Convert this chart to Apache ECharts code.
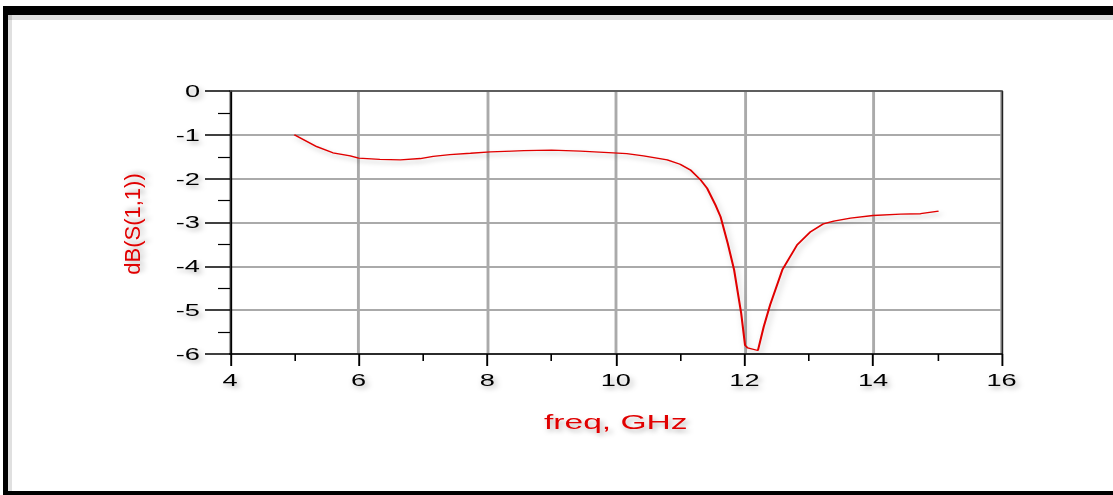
<!DOCTYPE html>
<html>
<head>
<meta charset="utf-8">
<script src="https://cdn.jsdelivr.net/npm/echarts@6/dist/echarts.min.js"></script>
<style>
html,body{margin:0;padding:0;background:#fff;overflow:hidden;}
#wrap{width:1113px;height:495px;position:relative;overflow:hidden;}
#c{position:absolute;left:0;top:0;height:495px;transform-origin:0 0;}
</style>
</head>
<body>
<div id="wrap"><div id="c"></div></div>
<script>
const freq = [5.0, 5.35, 5.6, 5.87, 6.0, 6.33, 6.65, 6.96, 7.16, 7.42, 7.74, 8.05, 8.57, 9.0, 9.45, 9.96, 10.17, 10.43, 10.8, 11.0, 11.16, 11.32, 11.42, 11.55, 11.63, 11.74, 11.84, 11.95, 12.01, 12.05, 12.21, 12.30, 12.40, 12.59, 12.82, 13.03, 13.23, 13.39, 13.65, 14.0, 14.43, 14.74, 15.02];
const s11 = [-1.0, -1.27, -1.41, -1.48, -1.53, -1.56, -1.57, -1.54, -1.49, -1.45, -1.42, -1.39, -1.36, -1.35, -1.37, -1.41, -1.43, -1.48, -1.57, -1.67, -1.80, -2.03, -2.22, -2.60, -2.87, -3.47, -4.08, -5.07, -5.80, -5.86, -5.92, -5.38, -4.88, -4.08, -3.51, -3.21, -3.03, -2.97, -2.90, -2.84, -2.81, -2.80, -2.74];
const xTicks = [4, 6, 8, 10, 12, 14, 16];
const yTicks = [0, -1, -2, -3, -4, -5, -6];
const xName = 'freq, GHz';
const yName = 'dB(S(1,1))';

// The reference's picture is stretched horizontally; draw narrower and stretch with CSS.
const S = 1.6;
const W = 1113, H = 495;
const W0 = W / S;
const el = document.getElementById('c');
el.style.width = W0 + 'px';
el.style.transform = 'scaleX(' + S + ')';

const shadow = {textShadowColor: 'rgba(0,0,0,0.3)', textShadowBlur: 4, textShadowOffsetX: 1.5, textShadowOffsetY: 3};
const font = 'Liberation Sans, Arial, sans-serif';

const chart = echarts.init(el, null, {renderer: 'svg'});
chart.setOption({
  animation: false,
  backgroundColor: '#fff',
  graphic: [
    {type: 'rect', shape: {x: 8 / S, y: 15, width: W0, height: 5}, style: {fill: 'rgba(0,0,0,0.12)'}, z: 0},
    {type: 'rect', shape: {x: 8 / S, y: 15, width: 4 / S, height: 476}, style: {fill: 'rgba(0,0,0,0.12)'}, z: 0},
    {type: 'rect', shape: {x: 3 / S, y: 6, width: W0, height: 9}, style: {fill: '#000'}, z: 1},
    {type: 'rect', shape: {x: 3 / S, y: 6, width: 5 / S, height: 489}, style: {fill: '#000'}, z: 1},
    {type: 'rect', shape: {x: 3 / S, y: 491, width: W0, height: 4}, style: {fill: '#000'}, z: 1},
    {
      type: 'group', x: 132 / S, y: 224, scaleX: 1 / S,
      children: [{
        type: 'text', rotation: Math.PI / 2,
        style: {text: yName, fill: '#e00000', font: '22px ' + font, align: 'center', verticalAlign: 'middle',
                textShadowColor: 'rgba(0,0,0,0.3)', textShadowBlur: 4, textShadowOffsetX: 2, textShadowOffsetY: 2}
      }]
    }
  ],
  grid: {left: 230 / S, right: 112 / S, top: 91, bottom: 141, containLabel: false},
  xAxis: [{
    type: 'value', min: xTicks[0], max: xTicks[xTicks.length - 1], interval: 2,
    position: 'bottom',
    name: xName, nameLocation: 'middle', nameGap: 57,
    nameTextStyle: Object.assign({color: '#e00000', fontSize: 21, fontFamily: font}, shadow),
    axisLine: {show: true, onZero: false, lineStyle: {color: '#000', width: 1.5}},
    axisTick: {show: true, length: 12, lineStyle: {color: '#000', width: 1.2}},
    minorTick: {show: true, splitNumber: 2, length: 7, lineStyle: {color: '#000', width: 1}},
    axisLabel: Object.assign({color: '#000', fontSize: 17, fontFamily: font, margin: 18}, shadow),
    splitLine: {show: true, lineStyle: {color: '#aaa', width: 1.8}},
    minorSplitLine: {show: false}
  }, {
    type: 'value', min: xTicks[0], max: xTicks[xTicks.length - 1], interval: 2,
    position: 'top',
    axisLine: {show: true, onZero: false, lineStyle: {color: '#444', width: 1.5}},
    axisTick: {show: false}, axisLabel: {show: false}, splitLine: {show: false}
  }],
  yAxis: [{
    type: 'value', min: yTicks[yTicks.length - 1], max: yTicks[0], interval: 1,
    position: 'left',
    axisLine: {show: true, onZero: false, lineStyle: {color: '#000', width: 1.2}},
    axisTick: {show: true, length: 25 / S, lineStyle: {color: '#000', width: 1.5}},
    minorTick: {show: true, splitNumber: 2, length: 12 / S, lineStyle: {color: '#000', width: 1.2}},
    axisLabel: Object.assign({color: '#000', fontSize: 17, fontFamily: font, margin: 30 / S}, shadow),
    splitLine: {show: true, lineStyle: {color: '#aaa', width: 2}},
    minorSplitLine: {show: false}
  }, {
    type: 'value', min: yTicks[yTicks.length - 1], max: yTicks[0], interval: 1,
    position: 'right',
    axisLine: {show: true, onZero: false, lineStyle: {color: '#222', width: 1}},
    axisTick: {show: false}, axisLabel: {show: false}, splitLine: {show: false}
  }],
  series: [{
    type: 'line',
    xAxisIndex: 0, yAxisIndex: 0,
    data: freq.map((f, i) => [f, s11[i]]),
    showSymbol: false,
    smooth: false,
    lineStyle: {color: '#e00000', width: 1.3, shadowColor: 'rgba(0,0,0,0.25)', shadowBlur: 4, shadowOffsetX: 1.5, shadowOffsetY: 3},
    z: 5
  }]
});
</script>
</body>
</html>
